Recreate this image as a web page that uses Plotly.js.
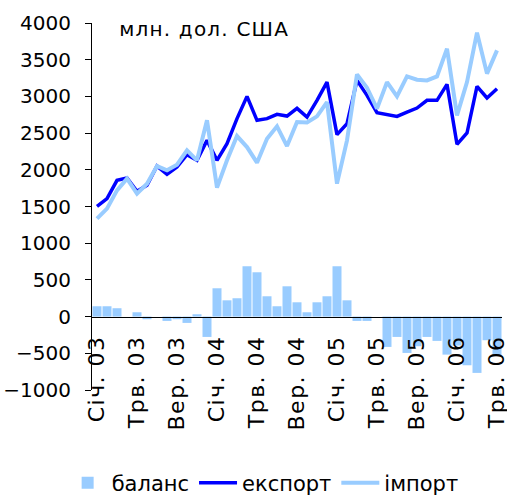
<!DOCTYPE html>
<html>
<head>
<meta charset="utf-8">
<script src="https://cdn.plot.ly/plotly-3.0.1.min.js"></script>
<style>
html,body{margin:0;padding:0;background:#fff;}
#chart{width:507px;height:499px;}
#chart .xtick text{letter-spacing:1.5px;}
#chart .annotation-text{letter-spacing:1.2px;}
</style>
</head>
<body>
<div id="chart"></div>
<script>
// months Jan 2003 .. May 2006 (index 0..40)
const monthIndex = [0,1,2,3,4,5,6,7,8,9,10,11,12,13,14,15,16,17,18,19,20,21,22,23,24,25,26,27,28,29,30,31,32,33,34,35,36,37,38,39,40];
const tickPositions = [0,4,8,12,16,20,24,28,32,36,40];
const tickLabels = ["Січ. 03","Трв. 03","Вер. 03","Січ. 04","Трв. 04","Вер. 04","Січ. 05","Трв. 05","Вер. 05","Січ. 06","Трв. 06"];
const tickBoundaries = [-0.5,3.5,7.5,11.5,15.5,19.5,23.5,27.5,31.5,35.5,39.5];

const exportVals = [1502,1607,1856,1888,1707,1788,2051,1938,2038,2206,2129,2401,2129,2356,2697,3000,2674,2697,2755,2732,2837,2719,2946,3195,2479,2629,3218,3014,2778,2755,2728,2787,2841,2946,2946,3164,2347,2501,3137,2978,3105];
const importVals = [1335,1471,1720,1880,1675,1811,2051,1993,2070,2265,2129,2674,1757,2129,2460,2310,2097,2424,2592,2323,2650,2645,2728,2923,1811,2401,3300,3119,2833,3195,3000,3273,3228,3218,3273,3650,2742,3195,3868,3310,3627];
const balanceVals = [141,141,114,0,59,-36,0,-59,-36,-86,32,-277,386,222,250,686,604,277,141,413,195,59,195,277,686,222,-59,-59,0,-413,-277,-495,-404,-277,-331,-518,-395,-663,-767,-322,-522];

const FONT = "DejaVu Sans, Verdana, sans-serif";

const traces = [
  {type:"bar", name:"баланс", x:monthIndex, y:balanceVals, marker:{color:"#99CCFF", line:{width:0}}},
  {type:"scatter", mode:"lines", name:"експорт", x:monthIndex, y:exportVals, line:{color:"#0000FF", width:3.5}},
  {type:"scatter", mode:"lines", name:"імпорт", x:monthIndex, y:importVals, line:{color:"#99CCFF", width:4}}
];

const layout = {
  width:507, height:499,
  margin:{l:92, r:5, t:22.7, b:109.3, pad:0},
  paper_bgcolor:"#fff", plot_bgcolor:"#fff",
  font:{family:FONT, size:20, color:"#000"},
  showlegend:true,
  bargap:0.1,
  xaxis:{
    range:[-0.5,40.5], anchor:"free", position:0.2,
    tickmode:"array", tickvals:tickPositions, ticktext:tickLabels,
    tickangle:-90, ticks:"", showgrid:false, zeroline:false,
    showline:true, linecolor:"#000", linewidth:1,
    tickfont:{family:FONT, size:22, color:"#000"},
    ticklabelstandoff:9, ticklabeloverflow:"allow"
  },
  xaxis2:{
    range:[-0.5,40.5], overlaying:"x", anchor:"free", position:0.2,
    tickmode:"array", tickvals:tickBoundaries, ticks:"outside", ticklen:5, tickcolor:"#000",
    showticklabels:false, showgrid:false, zeroline:false, showline:false
  },
  yaxis:{
    range:[-1000,4000], dtick:500, tick0:0,
    ticks:"outside", ticklen:6, tickcolor:"#000",
    showline:true, linecolor:"#000", linewidth:1,
    showgrid:false, zeroline:false,
    tickfont:{family:FONT, size:20, color:"#000"},
    ticklabelstandoff:10
  },
  legend:{
    orientation:"h", xref:"container", yref:"container",
    x:0.52, xanchor:"center", y:0.032, yanchor:"middle",
    font:{family:FONT, size:21, color:"#000"},
    itemwidth:38, tracegroupgap:0, traceorder:"normal"
  },
  annotations:[{
    text:"млн. дол. США", xref:"paper", yref:"paper",
    x:0.08, xanchor:"left", y:0.985, yanchor:"middle",
    showarrow:false, font:{family:FONT, size:20, color:"#000"}
  }]
};

Plotly.newPlot("chart", traces, layout, {displayModeBar:false, staticPlot:true});
</script>
</body>
</html>
